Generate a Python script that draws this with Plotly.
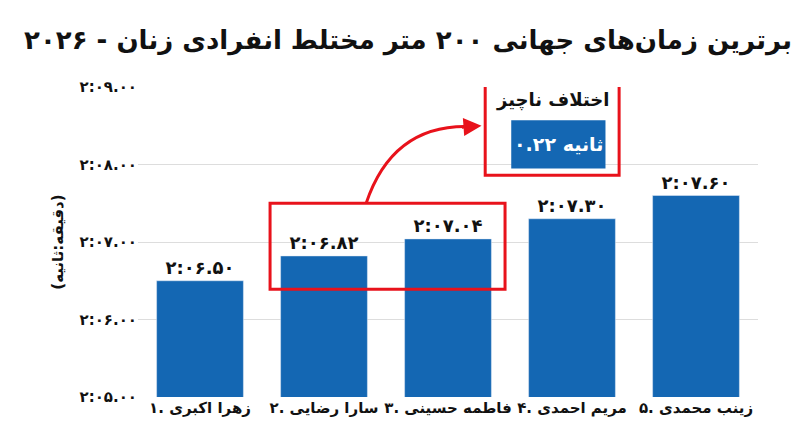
import plotly.graph_objects as go

categories = ["۱. زهرا اکبری", "۲. سارا رضایی", "۳. فاطمه حسینی", "۴. مریم احمدی", "۵. زینب محمدی"]
values = [126.50, 126.82, 127.04, 127.30, 127.60]
labels = ["۲:۰۶.۵۰", "۲:۰۶.۸۲", "۲:۰۷.۰۴", "۲:۰۷.۳۰", "۲:۰۷.۶۰"]
tick_vals = [125, 126, 127, 128, 129]
tick_text = ["۲:۰۵.۰۰", "۲:۰۶.۰۰", "۲:۰۷.۰۰", "۲:۰۸.۰۰", "۲:۰۹.۰۰"]

F = "DejaVu Sans"
blue = "#1467b3"
red = "#e8121b"
LRE, PDF = "\u202a", "\u202c"

fig = go.Figure(go.Bar(x=list(range(5)), y=values, marker_color=blue, width=0.7,
                       text=["<b>%s</b>" % l for l in labels], textposition="outside", cliponaxis=False,
                       textfont=dict(family=F, size=18, color="#111")))
shapes = [
    dict(type="rect", xref="x", yref="y", x0=0.565, x1=2.46, y0=126.39, y1=127.50,
         line=dict(color=red, width=3)),
    dict(type="rect", xref="x", yref="y", x0=2.30, x1=3.38, y0=127.86, y1=129.05,
         line=dict(color=red, width=3)),
    dict(type="rect", xref="x", yref="y", x0=2.51, x1=3.27, y0=127.95, y1=128.57,
         line=dict(width=0), fillcolor=blue),
    dict(type="path", xref="x", yref="y", path="M 1.34,127.5 Q 1.55,128.5 2.15,128.49",
         line=dict(color=red, width=3)),
]
fig.update_layout(
    width=800, height=447, margin=dict(l=130, r=50, t=79, b=58),
    plot_bgcolor="white", paper_bgcolor="white", showlegend=False,
    shapes=shapes,
    title=dict(text="<b>برترین زمان‌های جهانی ۲۰۰ متر مختلط انفرادی زنان - ۲۰۲۶</b>",
               x=0.5, y=0.95, xanchor="center", font=dict(family=F, size=26, color="#111")),
    xaxis=dict(tickvals=list(range(5)), ticktext=["<b>%s%s%s</b>" % (LRE, c, PDF) for c in categories],
               range=[-0.5, 4.5], tickfont=dict(family=F, size=15, color="#111"),
               showgrid=False, ticks=""),
    yaxis=dict(range=[125, 129], tickvals=tick_vals, ticktext=["<b>%s</b>" % t for t in tick_text],
               tickfont=dict(family=F, size=15, color="#111"), gridcolor="#dddddd",
               zeroline=False,
               title=dict(text="<b>(دقیقه:ثانیه)</b>", font=dict(family=F, size=15, color="#111"), standoff=12)),
    annotations=[
        dict(x=2.84, y=128.83, xref="x", yref="y", text="<b>اختلاف ناچیز</b>", showarrow=False,
             font=dict(family=F, size=18, color="#111")),
        dict(x=2.89, y=128.26, xref="x", yref="y", text="<b>%s۰.۲۲ ثانیه%s</b>" % (LRE, PDF), showarrow=False,
             font=dict(family=F, size=19, color="white")),
        dict(x=2.27, y=128.5, xref="x", yref="y", ax=2.1, ay=128.48, axref="x", ayref="y",
             text="", showarrow=True, arrowhead=2, arrowsize=1.2, arrowwidth=3, arrowcolor=red),
    ],
)
fig.write_html("out.html")
